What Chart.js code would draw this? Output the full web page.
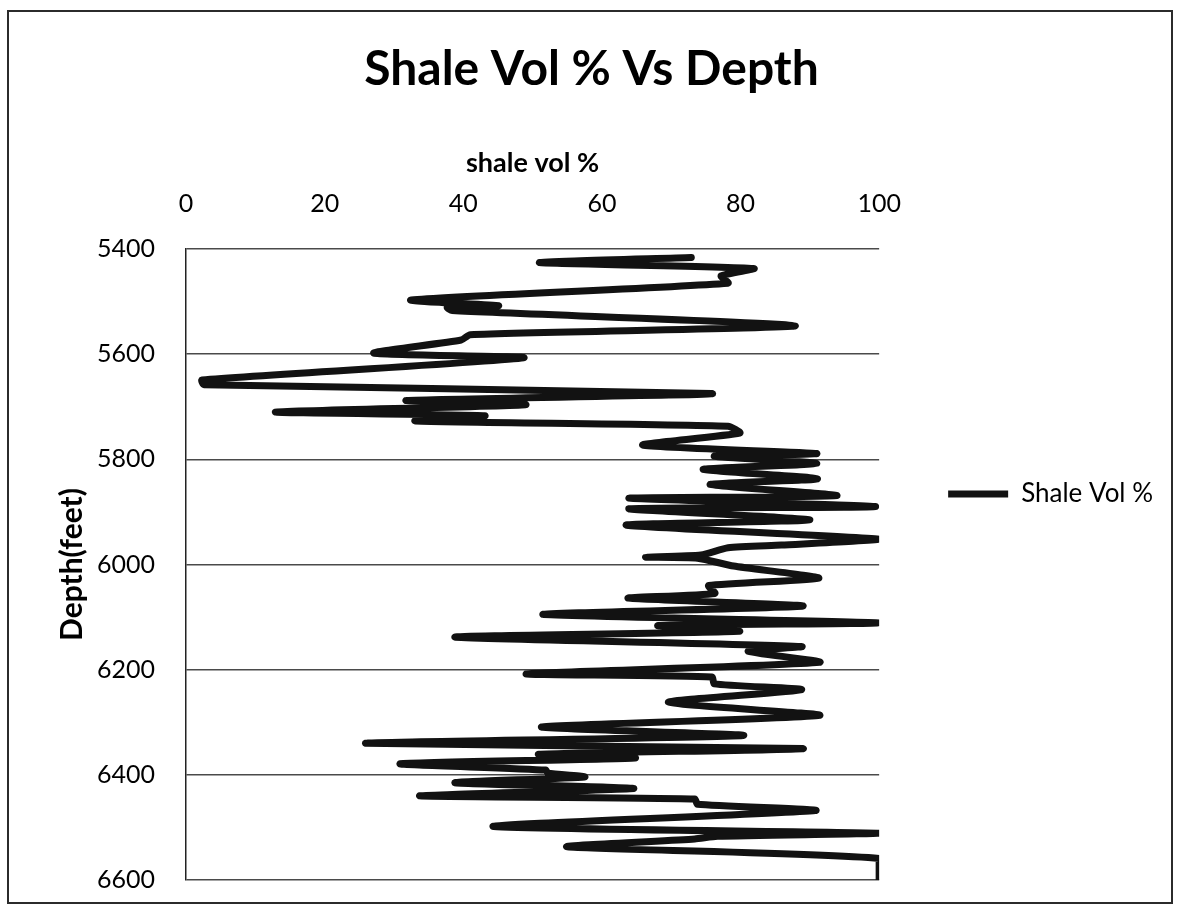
<!DOCTYPE html>
<html>
<head>
<meta charset="utf-8">
<title>Shale Vol % Vs Depth</title>
<script src="https://cdn.jsdelivr.net/npm/chart.js@4.4.1/dist/chart.umd.min.js"></script>
<style>
  html, body { margin: 0; padding: 0; background: #fff; }
  #wrap { position: relative; width: 1186px; height: 911px; }
  #frame {
    position: absolute; left: 7px; top: 10px; width: 1166px; height: 894px;
    box-sizing: border-box; border: 2px solid #2b2b2b; pointer-events: none;
  }
</style>
</head>
<body>
<div id="wrap">
  <canvas id="shaleChart" width="1186" height="911"></canvas>
  <div id="frame"></div>
</div>
<script>
const depthFeet = [
    5416, 5426, 5437, 5451, 5465, 5497, 5508, 5511, 5517, 5546,
    5563, 5573, 5598, 5607, 5649, 5658, 5675, 5688, 5696, 5710,
    5717, 5727, 5737, 5750, 5773, 5789, 5794, 5808, 5819, 5837,
    5848, 5869, 5874, 5890, 5894, 5915, 5925, 5952, 5963, 5968,
    5982, 5986, 5988, 6003, 6026, 6040, 6055, 6064, 6079, 6095,
    6111, 6116, 6127, 6138, 6156, 6165, 6186, 6208, 6214, 6227,
    6238, 6262, 6287, 6309, 6325, 6340, 6350, 6361, 6368, 6379,
    6391, 6397, 6404, 6415, 6426, 6440, 6446, 6456, 6468, 6498,
    6511, 6517, 6522, 6537, 6559, 6598
];
const shaleVol = [
    72.9, 51.0, 81.9, 77.2, 78.2, 32.5, 45.1, 37.7, 38.4, 87.9,
    41.0, 39.7, 27.1, 48.7, 2.3, 2.6, 75.9, 31.8, 49.0, 12.9,
    43.1, 33.1, 78.2, 79.9, 65.9, 91.0, 76.2, 91.0, 74.6, 91.1,
    75.6, 93.9, 63.9, 99.5, 63.9, 90.0, 63.5, 100, 85.9, 78.2,
    74.3, 66.3, 73.8, 79.0, 91.3, 75.4, 76.3, 63.8, 89.0, 51.5,
    100, 68.1, 79.8, 38.8, 88.8, 81.1, 91.4, 49.1, 75.9, 76.2,
    88.8, 69.6, 91.4, 51.3, 80.4, 25.9, 89.0, 50.9, 64.8, 30.9,
    51.9, 52.2, 57.5, 38.8, 64.6, 33.7, 73.4, 73.8, 90.8, 44.3,
    100, 76.7, 73.4, 55.0, 100, 100
];
const volTicks = [0, 20, 40, 60, 80, 100];
const depthTicks = [5400, 5600, 5800, 6000, 6200, 6400, 6600];

const inkColor = '#121212';
const gridColor = '#4a4a4a';

const points = shaleVol.map((v, i) => ({ x: v, y: depthFeet[i] }));

const ctx = document.getElementById('shaleChart').getContext('2d');
new Chart(ctx, {
    type: 'scatter',
    data: {
        datasets: [{
            label: 'Shale Vol %',
            data: points,
            showLine: true,
            borderColor: inkColor,
            backgroundColor: inkColor,
            borderWidth: 7,
            pointRadius: 0,
            pointHoverRadius: 0,
            tension: 0.2,
            borderCapStyle: 'round',
            borderJoinStyle: 'round'
        }]
    },
    options: {
        responsive: false,
        animation: false,
        devicePixelRatio: 1,
        layout: {
            padding: { top: 41, left: 20, right: 23, bottom: 31 }
        },
        scales: {
            x: {
                type: 'linear',
                position: 'top',
                min: volTicks[0],
                max: volTicks[volTicks.length - 1],
                afterBuildTicks: s => { s.ticks = volTicks.map(v => ({ value: v })); },
                afterFit: s => { s.height = 150.4; },
                grid: { display: false, drawTicks: false },
                border: { display: false },
                ticks: {
                    padding: 30,
                    color: '#000',
                    font: { family: 'Lato', size: 25 }
                },
                title: {
                    display: true,
                    text: 'shale vol %',
                    color: '#000',
                    font: { family: 'Lato', size: 27, weight: 'bold' },
                    padding: { top: 48, bottom: 0 }
                }
            },
            y: {
                type: 'linear',
                position: 'left',
                reverse: true,
                min: depthTicks[0],
                max: depthTicks[depthTicks.length - 1],
                afterBuildTicks: s => { s.ticks = depthTicks.map(v => ({ value: v })); },
                afterFit: s => { s.width = 166; },
                grid: { color: gridColor, lineWidth: 1.5, drawTicks: true, tickLength: 28, tickColor: 'rgba(0,0,0,0)' },
                border: { display: true, color: '#222', width: 1.5 },
                ticks: {
                    padding: 3,
                    color: '#000',
                    font: { family: 'Lato', size: 25 },
                    callback: v => String(v)
                },
                title: {
                    display: true,
                    text: 'Depth(feet)',
                    color: '#000',
                    font: { family: 'Lato', size: 30, weight: 'bold' },
                    padding: { top: 34, bottom: 0 }
                }
            }
        },
        plugins: {
            title: {
                display: true,
                text: 'Shale Vol % Vs Depth',
                color: '#000',
                font: { family: 'Lato', size: 48, weight: 'bold' },
                padding: { top: 0, bottom: 0 }
            },
            legend: {
                position: 'right',
                align: 'start',
                title: { display: true, text: '', font: { size: 10 }, padding: { top: 359, bottom: 0 } },
                labels: {
                    usePointStyle: true,
                    pointStyle: 'line',
                    pointStyleWidth: 60,
                    padding: 69,
                    color: '#000',
                    font: { family: 'Lato', size: 26 }
                }
            },
            tooltip: { enabled: false }
        }
    }
});
</script>
</body>
</html>
